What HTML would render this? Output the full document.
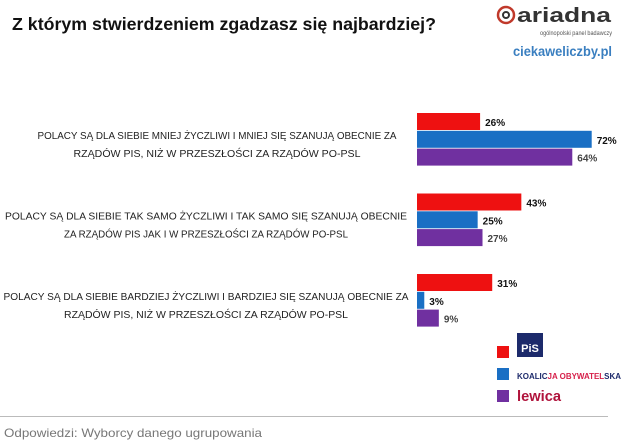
<!DOCTYPE html>
<html><head><meta charset="utf-8"><style>
body{margin:0;background:#fff;}
svg{display:block;font-family:"Liberation Sans",sans-serif;}
</style></head><body>
<svg width="628" height="447" viewBox="0 0 628 447">
<text x="12" y="30" font-size="17.5" font-weight="bold" fill="#111" textLength="424" lengthAdjust="spacingAndGlyphs">Z którym stwierdzeniem zgadzasz się najbardziej?</text>
<g>
<circle cx="506" cy="15" r="8" fill="none" stroke="#c0392b" stroke-width="2.5"/>
<circle cx="506" cy="15" r="3" fill="none" stroke="#333" stroke-width="2"/>
<text x="517" y="22" font-size="20" font-weight="bold" fill="#333" textLength="94" lengthAdjust="spacingAndGlyphs">ariadna</text>
<text x="540" y="35" font-size="6" fill="#555" textLength="72" lengthAdjust="spacingAndGlyphs">ogólnopolski panel badawczy</text>
</g>
<text x="513" y="56" font-size="14" font-weight="bold" fill="#3a7fc0" textLength="99" lengthAdjust="spacingAndGlyphs">ciekaweliczby.pl</text>
<g id="labels"></g>
<g id="bars"></g>
<g>
<rect x="497" y="346" width="12" height="12" fill="#ee1111"/>
<rect x="517" y="333" width="26" height="24" fill="#1d2a6b"/>
<text x="530" y="352" font-size="11" font-weight="bold" fill="#fff" text-anchor="middle">PiS</text>
<rect x="497" y="368" width="12" height="12" fill="#1a6fc4"/>
<text x="517" y="379" font-size="8.5" font-weight="bold" textLength="104" lengthAdjust="spacingAndGlyphs"><tspan fill="#1d2a6b">KOALIC</tspan><tspan fill="#d6204a">JA OBYWATEL</tspan><tspan fill="#1d2a6b">SKA</tspan></text>
<rect x="497" y="390" width="12" height="12" fill="#7030a0"/>
<text x="517" y="401" font-size="15" font-weight="bold" fill="#b0143c" textLength="44" lengthAdjust="spacingAndGlyphs">lewica</text>
</g>
<line x1="0" y1="416.5" x2="608" y2="416.5" stroke="#bbb" stroke-width="1"/>
<text x="4" y="437" font-size="12" fill="#777" textLength="258" lengthAdjust="spacingAndGlyphs">Odpowiedzi: Wyborcy danego ugrupowania</text>
</svg>
<script>
const categories1 = ["POLACY SĄ DLA SIEBIE MNIEJ ŻYCZLIWI I MNIEJ SIĘ SZANUJĄ OBECNIE ZA","POLACY SĄ DLA SIEBIE TAK SAMO ŻYCZLIWI I TAK SAMO SIĘ SZANUJĄ OBECNIE","POLACY SĄ DLA SIEBIE BARDZIEJ ŻYCZLIWI I BARDZIEJ SIĘ SZANUJĄ OBECNIE ZA"];
const categories2 = ["RZĄDÓW PIS, NIŻ W PRZESZŁOŚCI ZA RZĄDÓW PO-PSL","ZA RZĄDÓW PIS JAK I W PRZESZŁOŚCI ZA RZĄDÓW PO-PSL","RZĄDÓW PIS, NIŻ W PRZESZŁOŚCI ZA RZĄDÓW PO-PSL"];
const seriesNames = ["pis","ko","lewica"];
const pisValues = [26,43,31];
const koValues = [72,25,3];
const lewicaValues = [64,27,9];
const NS="http://www.w3.org/2000/svg";
const colors=["#ee1111","#1a6fc4","#7030a0"];
const x0=417, pxPer=174.7/72;
function xScale(v){return x0+v*pxPer;}
function groupY(i){return 113+i*80.5;}
const labelsG=document.getElementById('labels');
const barsG=document.getElementById('bars');
const w1=[359,402,405], w2=[287,284,284], cx=[217,206,206];
categories1.forEach((c,i)=>{
  const gy=groupY(i);
  [c,categories2[i]].forEach((t,j)=>{
    const tx=document.createElementNS(NS,'text');
    
    
    tx.setAttribute('x',cx[i]);tx.setAttribute('y',gy+26+j*18);
    tx.setAttribute('text-anchor','middle');tx.setAttribute('font-size','10');tx.setAttribute('fill','#222');
    tx.setAttribute('textLength',j?w2[i]:w1[i]);tx.setAttribute('lengthAdjust','spacingAndGlyphs');
    tx.textContent=t;labelsG.appendChild(tx);
  });
  [pisValues,koValues,lewicaValues].forEach((arr,s)=>{
    const v=arr[i], y=gy+s*17.8;
    const r=document.createElementNS(NS,'rect');
    
    
    r.setAttribute('x',x0);r.setAttribute('y',y);r.setAttribute('width',xScale(v)-x0);r.setAttribute('height',17);
    r.setAttribute('fill',colors[s]);barsG.appendChild(r);
    const t=document.createElementNS(NS,'text');
    
    
    t.setAttribute('x',xScale(v)+5);t.setAttribute('y',y+13);t.setAttribute('font-size','10');
    t.setAttribute('font-weight','bold');t.setAttribute('fill',s==2?'#444':'#111');
    t.textContent=v+'%';barsG.appendChild(t);
  });
});
</script>
</body></html>
